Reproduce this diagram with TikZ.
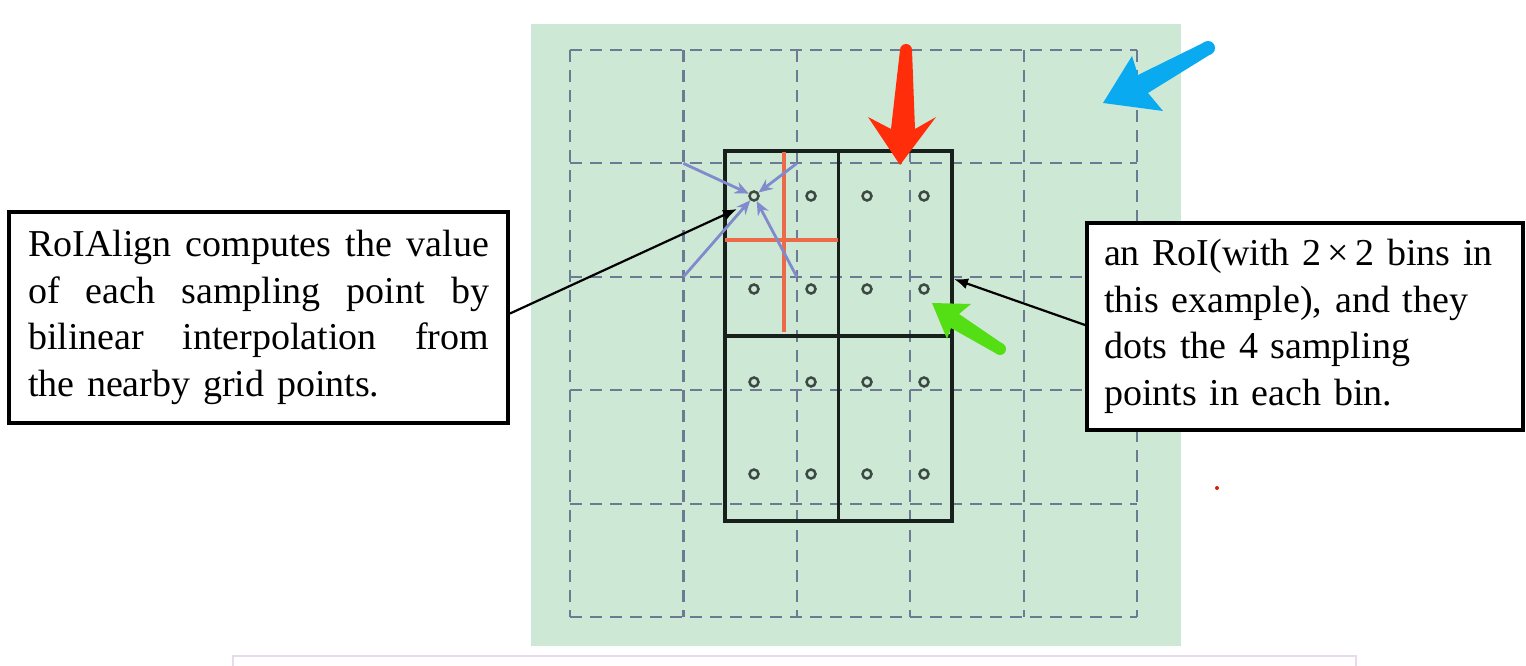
\documentclass[tikz,border=0pt]{standalone}
\usepackage{fontspec}
\setmainfont{Liberation Serif}
\usetikzlibrary{arrows.meta}
\definecolor{panel}{RGB}{206,232,214}
\definecolor{gridc}{RGB}{108,122,148}
\definecolor{roic}{RGB}{24,32,28}
\definecolor{ptc}{RGB}{60,72,66}
\definecolor{crossc}{RGB}{236,106,74}
\definecolor{interp}{RGB}{128,138,204}
\definecolor{mkred}{RGB}{255,45,10}
\definecolor{mkblue}{RGB}{10,170,240}
\definecolor{mkgreen}{RGB}{84,222,20}
\definecolor{capframe}{RGB}{232,218,236}
\begin{document}
\begin{tikzpicture}[x=1pt,y=-1pt,
  gridline/.style={draw=gridc,line width=2.2pt,dash pattern=on 12pt off 8pt},
  roiline/.style={draw=roic,line width=3.4pt},
  samp/.style={circle,draw=ptc,line width=2.5pt,minimum size=9pt,inner sep=0pt},
  crossline/.style={draw=crossc,line width=3.4pt},
  interparrow/.style={draw=interp,line width=2.8pt,-{Stealth[length=14pt,width=12pt]},shorten >=0pt},
  callout/.style={draw=black,line width=4pt,fill=white,inner sep=0pt,
     font=\fontsize{38}{46.5}\selectfont},
  pointer/.style={draw=black,line width=2.2pt,-{Latex[length=14pt,width=11pt]}}
]
\useasboundingbox[fill=white] (0,0) rectangle (1526,666);

% green panel
\fill[panel] (531,24) rectangle (1181,646);

% dashed feature-map grid
\foreach \v in {570,683.4,796.8,910.2,1023.6,1137}{
  \draw[gridline] (\v,50) -- (\v,617);
  \draw[gridline] (570,\v-520) -- (1137,\v-520);
}

% RoI with 2x2 bins
\node[roiline,rectangle,minimum width=227pt,minimum height=370pt,inner sep=0pt] (roi) at (838.5,336) {};
\draw[roiline] (roi.north) -- (roi.south);
\draw[roiline] (roi.west) -- (roi.east);

% red cross in first bin
\draw[crossline] (784,152) -- (784,332);
\draw[crossline] (725,240) -- (838,240);

% sampling points
\foreach \i/\x in {1/754,2/811,3/867,4/924}{
  \foreach \j/\y in {1/196,2/289,3/382,4/474}{
    \node[samp] (p\i\j) at (\x,\y) {};
  }
}

% interpolation arrows from grid points
\coordinate (g1) at (683.4,163.4);
\coordinate (g2) at (796.8,163.4);
\coordinate (g3) at (683.4,276.8);
\coordinate (g4) at (796.8,276.8);
\foreach \g in {g1,g2,g3,g4}{
  \draw[interparrow] (\g) -- (p11);
}

% callouts
\node[callout,minimum width=499pt,minimum height=211pt,text width=461pt,align=left] (lbox) at (258.5,317.5)
 {\makebox[461pt][l]{RoIAlign\hfill computes\hfill the\hfill value}\\
  \makebox[461pt][l]{of\hfill each\hfill sampling\hfill point\hfill by}\\
  \makebox[461pt][l]{bilinear\hfill interpolation\hfill from}\\
  the nearby grid points.};
\node[callout,minimum width=436pt,minimum height=207pt,text width=402pt,align=left] (rbox) at (1305,326.5)
 {an RoI(with 2\,×\,2 bins in\\
  this example), and they\\
  dots the 4 sampling\\
  points in each bin.};

\coordinate (ltip) at (737,209);
\coordinate (rtip) at (954,279);
\draw[pointer] ([yshift=4pt]lbox.east) -- (ltip);
\draw[pointer] ([yshift=1.5pt]rbox.west) -- (rtip);

% hand-drawn marker arrows
\fill[mkred] (900,165) -- (868,117) -- (891,129) -- (900,50) -- (912,50) -- (915,129) -- (936,117) -- cycle;
\fill[mkred] (906,50) circle[radius=6pt];
\fill[mkblue] (1103,103) -- (1132,56) -- (1138,75) -- (1205,42) -- (1211,54) -- (1148,93) -- (1163,111) -- cycle;
\fill[mkblue] (1208,48) circle[radius=7pt];
\fill[mkgreen] (932,303) -- (971,304) -- (959,314) -- (1003,344) -- (997,354) -- (951,328) -- (947,339) -- cycle;
\fill[mkgreen] (1000,349) circle[radius=6pt];

% small red speck
\fill[mkred!80!black] (1217,488) circle[radius=2pt];

% caption frame at bottom
\draw[capframe,line width=1.5pt,fill=white] (233,656) rectangle (1356,672);
\end{tikzpicture}
\end{document}
